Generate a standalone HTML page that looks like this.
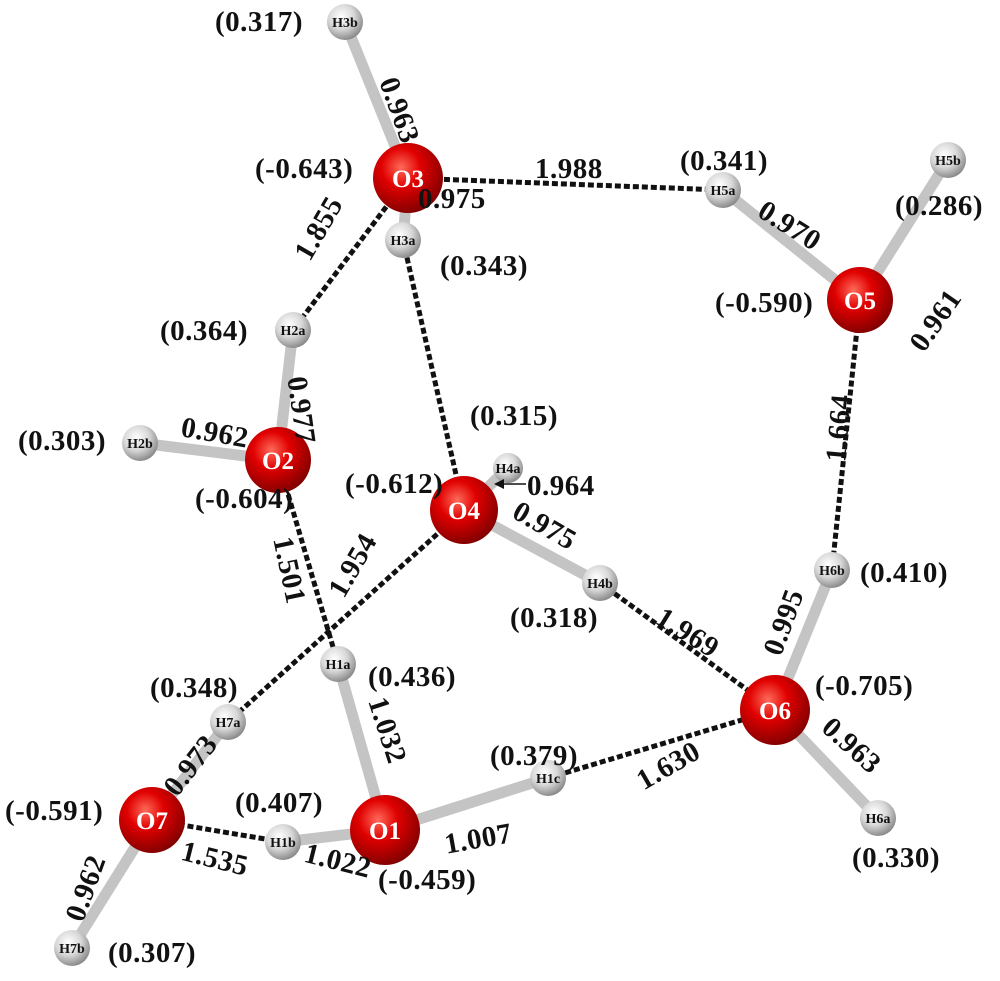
<!DOCTYPE html>
<html><head><meta charset="utf-8"><style>
html,body{margin:0;padding:0;background:#fff;}
svg{display:block;}
text{font-family:"Liberation Serif",serif;font-weight:bold;}
.l{font-size:29px;fill:#111;letter-spacing:0.5px;}
.r{text-anchor:middle;}
.o{font-size:25px;fill:#fff;text-anchor:middle;}
.h{font-size:14px;fill:#111;text-anchor:middle;}
.d{stroke:#111;stroke-width:5;stroke-dasharray:6 3;}
</style></head><body>
<svg width="1000" height="981" viewBox="0 0 1000 981" xmlns="http://www.w3.org/2000/svg">
<defs>
<radialGradient id="rg" cx="0.4" cy="0.35" r="0.7"><stop offset="0" stop-color="#ff6a5a"/><stop offset="0.4" stop-color="#e00000"/><stop offset="1" stop-color="#7a0000"/></radialGradient>
<radialGradient id="wg" cx="0.4" cy="0.35" r="0.7"><stop offset="0" stop-color="#ffffff"/><stop offset="0.5" stop-color="#d8d8d8"/><stop offset="1" stop-color="#808080"/></radialGradient>
</defs>
<g stroke="#c4c4c4" stroke-width="11" stroke-linecap="round">
<line x1="345" y1="22" x2="408" y2="178"/><line x1="408" y1="178" x2="403" y2="240"/>
<line x1="723" y1="190" x2="860" y2="300"/><line x1="860" y1="300" x2="948" y2="160"/>
<line x1="293" y1="330" x2="278" y2="460"/><line x1="278" y1="460" x2="140" y2="443"/>
<line x1="464" y1="510" x2="508" y2="468"/><line x1="464" y1="510" x2="600" y2="583"/>
<line x1="832" y1="570" x2="775" y2="710"/><line x1="775" y1="710" x2="878" y2="818"/>
<line x1="338" y1="664" x2="385" y2="830"/><line x1="385" y1="830" x2="548" y2="778"/><line x1="385" y1="830" x2="283" y2="842"/>
<line x1="152" y1="820" x2="228" y2="722"/><line x1="152" y1="820" x2="72" y2="948"/>
</g>
<g class="d">
<line x1="408" y1="178" x2="723" y2="190"/><line x1="408" y1="178" x2="293" y2="330"/>
<line x1="403" y1="240" x2="464" y2="510"/><line x1="860" y1="300" x2="832" y2="570"/>
<line x1="278" y1="460" x2="338" y2="664"/><line x1="464" y1="510" x2="228" y2="722"/>
<line x1="600" y1="583" x2="775" y2="710"/><line x1="548" y1="778" x2="775" y2="710"/>
<line x1="152" y1="820" x2="283" y2="842"/>
</g>
<g fill="url(#wg)">
<circle cx="345" cy="22" r="18"/><circle cx="403" cy="240" r="18"/><circle cx="723" cy="190" r="18"/>
<circle cx="948" cy="160" r="18"/><circle cx="293" cy="330" r="18"/><circle cx="140" cy="443" r="18"/>
<circle cx="508" cy="468" r="15"/><circle cx="600" cy="583" r="18"/><circle cx="832" cy="570" r="18"/>
<circle cx="878" cy="818" r="18"/><circle cx="338" cy="664" r="18"/><circle cx="548" cy="778" r="18"/>
<circle cx="283" cy="842" r="18"/><circle cx="228" cy="722" r="18"/><circle cx="72" cy="948" r="18"/>
</g>
<g fill="url(#rg)">
<circle cx="408" cy="178" r="35"/><circle cx="860" cy="300" r="33"/><circle cx="278" cy="460" r="33"/>
<circle cx="464" cy="510" r="34"/><circle cx="775" cy="710" r="35"/><circle cx="385" cy="830" r="35"/><circle cx="152" cy="820" r="33"/>
</g>
<text class="o" x="408" y="187">O3</text><text class="o" x="860" y="309">O5</text><text class="o" x="278" y="469">O2</text>
<text class="o" x="464" y="519">O4</text><text class="o" x="775" y="719">O6</text><text class="o" x="385" y="839">O1</text><text class="o" x="152" y="829">O7</text>
<text class="h" x="345" y="27">H3b</text><text class="h" x="403" y="245">H3a</text><text class="h" x="723" y="195">H5a</text>
<text class="h" x="948" y="165">H5b</text><text class="h" x="293" y="335">H2a</text><text class="h" x="140" y="448">H2b</text>
<text class="h" x="508" y="473">H4a</text><text class="h" x="600" y="588">H4b</text><text class="h" x="832" y="575">H6b</text>
<text class="h" x="878" y="823">H6a</text><text class="h" x="338" y="669">H1a</text><text class="h" x="548" y="783">H1c</text>
<text class="h" x="283" y="847">H1b</text><text class="h" x="228" y="727">H7a</text><text class="h" x="72" y="953">H7b</text>
<g class="l">
<text x="215" y="31">(0.317)</text>
<text x="255" y="178">(-0.643)</text>
<text x="535" y="178">1.988</text>
<text x="680" y="170">(0.341)</text>
<text x="895" y="215">(0.286)</text>
<text x="418" y="208">0.975</text>
<text x="440" y="275">(0.343)</text>
<text x="715" y="312">(-0.590)</text>
<text x="160" y="340">(0.364)</text>
<text x="470" y="425">(0.315)</text>
<text x="18" y="450">(0.303)</text>
<text x="195" y="508">(-0.604)</text>
<text x="345" y="493">(-0.612)</text>
<text x="527" y="495">0.964</text>
<text x="860" y="582">(0.410)</text>
<text x="510" y="627">(0.318)</text>
<text x="150" y="697">(0.348)</text>
<text x="368" y="686">(0.436)</text>
<text x="815" y="695">(-0.705)</text>
<text x="490" y="765">(0.379)</text>
<text x="235" y="812">(0.407)</text>
<text x="5" y="820">(-0.591)</text>
<text x="378" y="889">(-0.459)</text>
<text x="852" y="867">(0.330)</text>
<text x="108" y="962">(0.307)</text>
</g>
<g class="l r">
<text transform="translate(400,110) rotate(70)" dy="10">0.963</text>
<text transform="translate(318,228) rotate(-60)" dy="10">1.855</text>
<text transform="translate(790,225) rotate(32)" dy="10">0.970</text>
<text transform="translate(935,320) rotate(-55)" dy="10">0.961</text>
<text transform="translate(302,410) rotate(82)" dy="10">0.977</text>
<text transform="translate(215,432) rotate(10)" dy="10">0.962</text>
<text transform="translate(545,525) rotate(30)" dy="10">0.975</text>
<text transform="translate(838,428) rotate(-85)" dy="10">1.664</text>
<text transform="translate(290,570) rotate(78)" dy="10">1.501</text>
<text transform="translate(352,565) rotate(-60)" dy="10">1.954</text>
<text transform="translate(688,632) rotate(32)" dy="10">1.969</text>
<text transform="translate(783,622) rotate(-70)" dy="10">0.995</text>
<text transform="translate(852,745) rotate(42)" dy="10">0.963</text>
<text transform="translate(388,730) rotate(72)" dy="10">1.032</text>
<text transform="translate(668,765) rotate(-30)" dy="10">1.630</text>
<text transform="translate(190,765) rotate(-52)" dy="10">0.973</text>
<text transform="translate(478,838) rotate(-10)" dy="10">1.007</text>
<text transform="translate(215,858) rotate(14)" dy="10">1.535</text>
<text transform="translate(338,860) rotate(14)" dy="10">1.022</text>
<text transform="translate(85,888) rotate(-70)" dy="10">0.962</text>
</g>
<line x1="526" y1="484" x2="500" y2="484" stroke="#111" stroke-width="1.5"/>
<polygon points="494,484 504,479 504,489" fill="#111"/>
</svg>
</body></html>
